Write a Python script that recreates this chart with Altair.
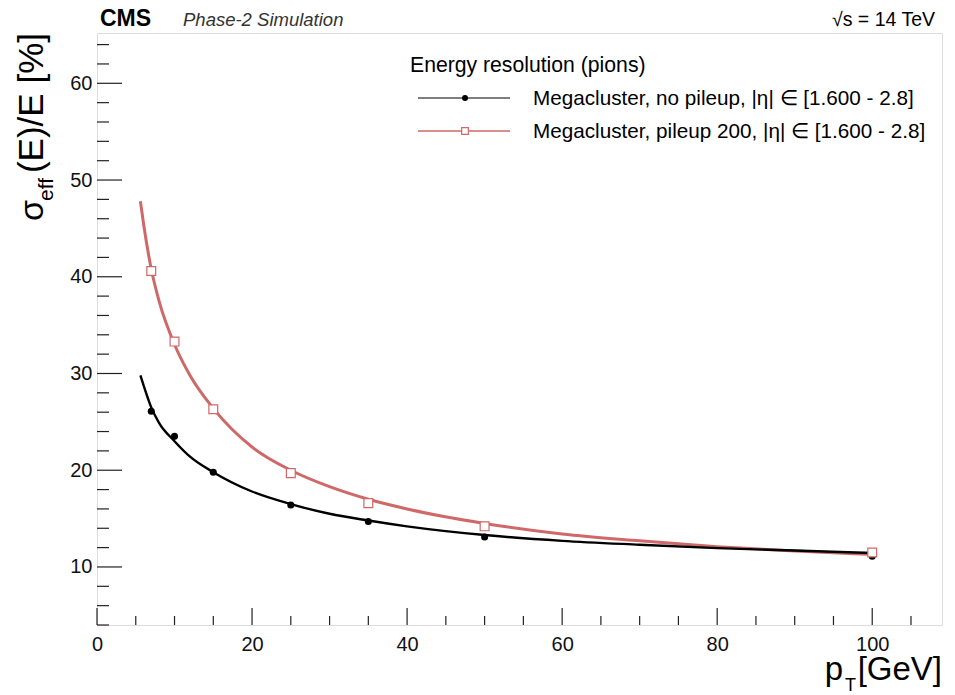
import altair as alt
import pandas as pd

# ---- data ----
pt_points = [7, 10, 15, 25, 35, 50, 100]
res_nopu = [26.1, 23.5, 19.8, 16.4, 14.7, 13.1, 11.1]
res_pu200 = [40.6, 33.3, 26.3, 19.7, 16.6, 14.2, 11.5]

fit_pt = [5.6, 6, 7, 8, 10, 12, 15, 20, 25, 30, 35, 40, 50, 60, 70, 80, 90, 100]
fit_nopu = [29.8, 28.8, 26.5, 24.9, 23.0, 21.4, 19.8, 17.8, 16.5, 15.5, 14.8, 14.2,
            13.3, 12.7, 12.3, 11.95, 11.7, 11.45]
fit_pu200 = [47.8, 45.5, 40.8, 37.5, 33.0, 29.8, 26.4, 22.4, 20.0, 18.3, 17.0, 16.0,
             14.5, 13.4, 12.7, 12.1, 11.65, 11.3]

x_major = [0, 20, 40, 60, 80, 100]
x_minor = [5, 10, 15, 25, 30, 35, 45, 50, 55, 65, 70, 75, 85, 90, 95, 105]
y_major = [10, 20, 30, 40, 50, 60]
y_minor = [4, 6, 8, 12, 14, 16, 18, 22, 24, 26, 28, 32, 34, 36, 38, 42, 44, 46, 48,
           52, 54, 56, 58, 62, 64]

series_names = ["Megacluster, no pileup, |η| ∈ [1.600 - 2.8]",
                "Megacluster, pileup 200, |η| ∈ [1.600 - 2.8]"]

W, H = 845, 592
FONT = "Liberation Sans"
BLACK = "#000000"
RED = "#cf6868"

xs = alt.Scale(domain=[0, 109], nice=False, zero=False)
ys = alt.Scale(domain=[4, 65.2], nice=False, zero=False)

pts = pd.DataFrame({"pt": pt_points, "nopu": res_nopu, "pu": res_pu200})
fit = pd.DataFrame({"pt": fit_pt, "nopu": fit_nopu, "pu": fit_pu200})

xaxis = alt.Axis(values=x_major, labelFont=FONT, labelFontSize=20, labelColor="#111",
                 ticks=False, domain=False, grid=False, title=None, labelPadding=9,
                 labelFlush=False)
yaxis = alt.Axis(values=y_major, labelFont=FONT, labelFontSize=20, labelColor="#111",
                 ticks=False, domain=False, grid=False, title=None, labelPadding=5)

base_fit = alt.Chart(fit)
line_nopu = base_fit.mark_line(color=BLACK, strokeWidth=2.4, interpolate="monotone").encode(
    x=alt.X("pt:Q", scale=xs, axis=xaxis),
    y=alt.Y("nopu:Q", scale=ys, axis=yaxis),
)
line_pu = base_fit.mark_line(color=RED, strokeWidth=3, interpolate="monotone").encode(
    x=alt.X("pt:Q", scale=xs),
    y=alt.Y("pu:Q", scale=ys),
)

base_pts = alt.Chart(pts)
dots_nopu = base_pts.mark_point(shape="circle", filled=True, color=BLACK, size=50, opacity=1).encode(
    x=alt.X("pt:Q", scale=xs),
    y=alt.Y("nopu:Q", scale=ys),
)
sq_pu = base_pts.mark_point(shape="square", filled=False, color=RED, fill="white",
                            fillOpacity=1, size=78, strokeWidth=1.2, opacity=1).encode(
    x=alt.X("pt:Q", scale=xs),
    y=alt.Y("pu:Q", scale=ys),
)

# inward ticks
xmaj = alt.Chart(pd.DataFrame({"v": x_major})).mark_rule(color="#222", strokeWidth=1.2).encode(
    x=alt.X("v:Q", scale=xs), y=alt.value(H), y2=alt.value(H - 17))
xmin = alt.Chart(pd.DataFrame({"v": x_minor})).mark_rule(color="#222", strokeWidth=1.2).encode(
    x=alt.X("v:Q", scale=xs), y=alt.value(H), y2=alt.value(H - 9))
ymaj = alt.Chart(pd.DataFrame({"v": y_major})).mark_rule(color="#222", strokeWidth=1.2).encode(
    y=alt.Y("v:Q", scale=ys), x=alt.value(0), x2=alt.value(25))
ymin = alt.Chart(pd.DataFrame({"v": y_minor})).mark_rule(color="#222", strokeWidth=1.2).encode(
    y=alt.Y("v:Q", scale=ys), x=alt.value(0), x2=alt.value(12))

dummy = pd.DataFrame({"a": [0]})


def label(txt, x, y, **kw):
    opts = dict(font=FONT, color="#000", baseline="alphabetic")
    opts.update(kw)
    return alt.Chart(dummy).mark_text(text=txt, **opts).encode(x=alt.value(x), y=alt.value(y))


texts = [
    label("CMS", 3, -7, fontSize=23, fontWeight="bold", align="left"),
    label("Phase-2 Simulation", 86, -7, fontSize=18.5, fontStyle="italic", align="left", color="#333"),
    label("√s = 14 TeV", 838, -7, fontSize=19.5, align="right"),
    # y title
    label("(E)/E [%]", -54, 0, fontSize=35, angle=270, align="right"),
    label("eff", -44, 168, fontSize=21, angle=270, align="left"),
    label("σ", -54, 188, fontSize=34, angle=270, align="left"),
    # x title
    label("[GeV]", 845, 647, fontSize=33, align="right"),
    label("p", 746, 647, fontSize=33, align="right"),
    label("T", 748, 658, fontSize=18, align="left"),
    # legend
    label("Energy resolution (pions)", 313, 39, fontSize=21.2, align="left"),
    label(series_names[0], 436, 72, fontSize=20.7, align="left"),
    label(series_names[1], 436, 105, fontSize=20.7, align="left"),
]

leg_line1 = alt.Chart(dummy).mark_rule(color=BLACK, strokeWidth=1.2).encode(
    x=alt.value(321), x2=alt.value(413), y=alt.value(65))
leg_line2 = alt.Chart(dummy).mark_rule(color=RED, strokeWidth=1.6).encode(
    x=alt.value(321), x2=alt.value(413), y=alt.value(98))
leg_dot = alt.Chart(dummy).mark_point(shape="circle", filled=True, color=BLACK, size=36, opacity=1).encode(
    x=alt.value(368), y=alt.value(65))
leg_sq = alt.Chart(dummy).mark_point(shape="square", filled=False, color=RED, fill="white",
                                     fillOpacity=1, size=45, strokeWidth=1.2, opacity=1).encode(
    x=alt.value(368), y=alt.value(98))

chart = alt.layer(
    line_pu, line_nopu, xmaj, xmin, ymaj, ymin, dots_nopu, sq_pu,
    leg_line1, leg_line2, leg_dot, leg_sq, *texts
).properties(
    width=W, height=H,
    padding={"left": 89, "top": 25, "right": 5, "bottom": 73},
    autosize=alt.AutoSizeParams(type="none"),
).configure_view(stroke="#333", strokeWidth=1.5).configure(background="white")

chart.save("out.html", embed_options={"renderer": "svg", "actions": False})
